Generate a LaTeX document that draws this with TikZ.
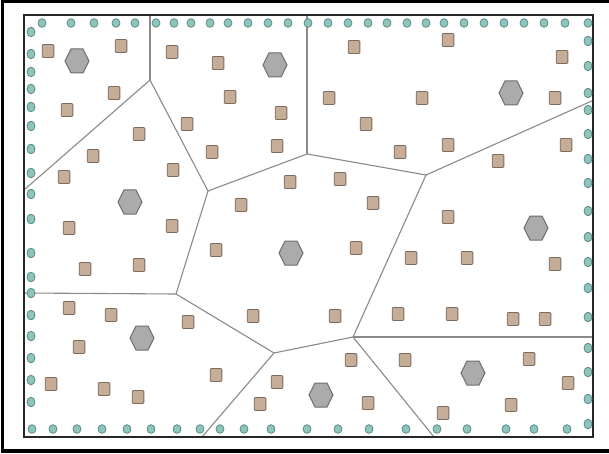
\documentclass[tikz,border=0pt]{standalone}
\definecolor{sqfill}{HTML}{C6AD98}
\definecolor{sqdraw}{HTML}{7D6B5E}
\definecolor{hxfill}{HTML}{ABABAB}
\definecolor{hxdraw}{HTML}{6E6E6E}
\definecolor{cifill}{HTML}{8FC4BD}
\definecolor{cidraw}{HTML}{5B8C86}
\definecolor{vline}{HTML}{8A8A8A}
\tikzset{
  sqbox/.style={fill=sqfill,draw=sqdraw,line width=0.9pt,rounded corners=1pt},
  hexa/.style={fill=hxfill,draw=hxdraw,line width=1pt},
  bdot/.style={fill=cifill,draw=cidraw,line width=0.8pt},
  vedge/.style={draw=vline,line width=1.1pt},
  innerframe/.style={draw=black!85,line width=1.6pt},
  outerframe/.style={draw=black,line width=3.5pt}
}
\begin{document}
\begin{tikzpicture}[x=1pt,y=-1pt]
\useasboundingbox (0,0) rectangle (609,454);
\fill[white] (0,0) rectangle (609,454);
% Voronoi vertices
\coordinate (A) at (150,80);
\coordinate (B) at (208,191);
\coordinate (C) at (307,154);
\coordinate (D) at (426,175);
\coordinate (E) at (353,337);
\coordinate (F) at (274,353);
\coordinate (G) at (176,294);
\coordinate (At) at (150,16);
\coordinate (Al) at (24,190);
\coordinate (Ct) at (307,16);
\coordinate (Dr) at (594,100);
\coordinate (Er) at (594,337);
\coordinate (Eb) at (434,437);
\coordinate (Fb) at (202,437);
\coordinate (Gl) at (24,293);
\draw[vedge] (At) -- (A);
\draw[vedge] (A) -- (Al);
\draw[vedge] (A) -- (B);
\draw[vedge] (B) -- (C);
\draw[vedge] (C) -- (Ct);
\draw[vedge] (C) -- (D);
\draw[vedge] (D) -- (Dr);
\draw[vedge] (D) -- (E);
\draw[vedge] (E) -- (Er);
\draw[vedge] (E) -- (Eb);
\draw[vedge] (E) -- (F);
\draw[vedge] (F) -- (Fb);
\draw[vedge] (F) -- (G);
\draw[vedge] (G) -- (Gl);
\draw[vedge] (G) -- (B);
% inner frame
\draw[innerframe] (24,15) rectangle (593,437);
% hexagons
\foreach \x/\y in {77/61,275/65,511/93,130/202,291/253,536/228,142/338,321/395,473/373}
  \draw[hexa] (\x,\y) ++(-12,0) -- ++(6,-12) -- ++(12,0) -- ++(6,12) -- ++(-6,12) -- ++(-12,0) -- cycle;
% squares
\foreach \x/\y in {48/51,121/46,172/52,114/93,67/110,139/134,187/124,218/63,230/97,281/113,
  354/47,329/98,366/124,212/152,277/146,400/152,448/40,562/57,422/98,555/98,448/145,566/145,
  93/156,64/177,173/170,69/228,172/226,85/269,139/265,290/182,340/179,241/205,373/203,216/250,
  356/248,498/161,448/217,411/258,467/258,555/264,69/308,111/315,188/322,79/347,51/384,104/389,
  138/397,253/316,335/316,398/314,351/360,405/360,216/375,277/382,260/404,368/403,452/314,
  513/319,545/319,529/359,568/383,511/405,443/413}
  \path[sqbox] (\x,\y) +(-5.8,-6.5) rectangle +(5.8,6.5);
% boundary dots: top
\foreach \x in {42,71,94,116,135,156,174,191,210,228,248,268,288,308,328,348,368,387,407,426,444,464,484,504,524,544,565,588}
  \path[bdot] (\x,23) ellipse [x radius=4,y radius=4.3];
% left
\foreach \y in {32,54,72,89,107,126,149,173,194,219,253,277,293,315,336,358,380,402}
  \path[bdot] (31,\y) ellipse [x radius=4,y radius=4.8];
% bottom
\foreach \x in {32,53,77,102,127,151,177,200,220,244,271,307,338,369,406,437,467,506,534,567}
  \path[bdot] (\x,429) ellipse [x radius=4,y radius=4.3];
% right
\foreach \y in {41,66,93,110,134,159,183,211,237,262,288,317,348,372,399,424}
  \path[bdot] (588,\y) ellipse [x radius=4,y radius=4.8];
% outer frame
\draw[outerframe] (610,1.7) -- (2.5,1.7) -- (2.5,451) -- (610,451);
\end{tikzpicture}
\end{document}
